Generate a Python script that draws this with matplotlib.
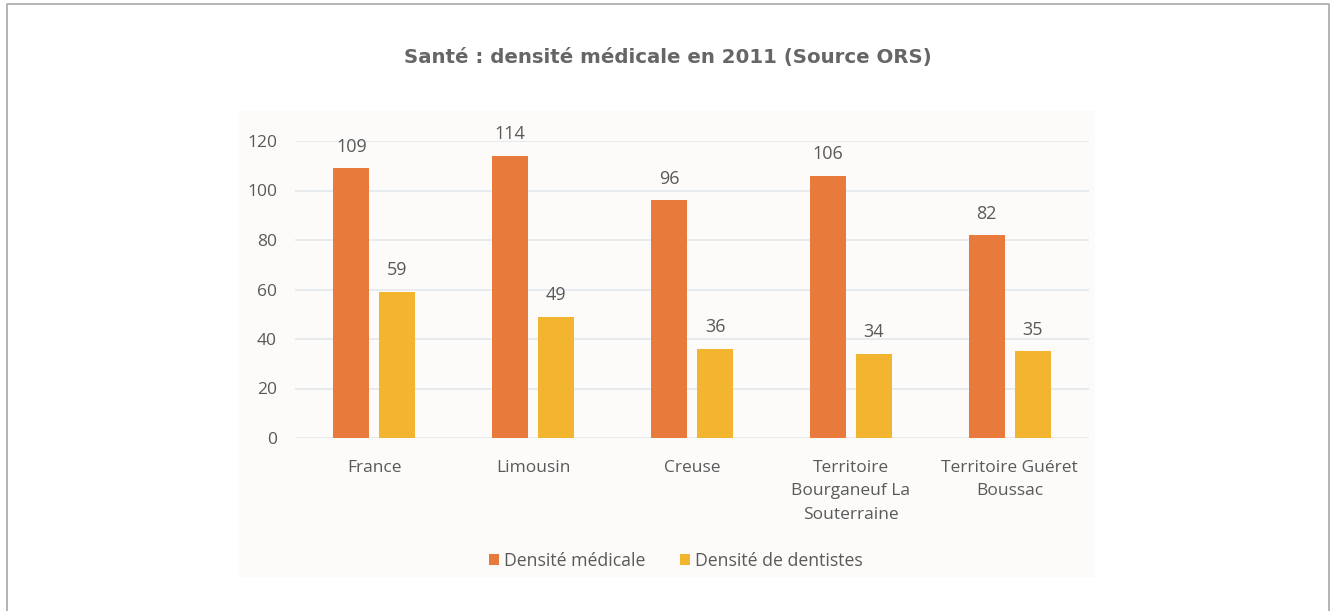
import matplotlib.pyplot as plt
import matplotlib.patches as mpatches
import numpy as np

categories = ['France', 'Limousin', 'Creuse',
              'Territoire\nBourganeuf La\nSouterraine', 'Territoire Guéret\nBoussac']
densite_medicale = [109, 114, 96, 106, 82]
densite_dentistes = [59, 49, 36, 34, 35]
series_names = ['Densité médicale', 'Densité de dentistes']
y_ticks = [0, 20, 40, 60, 80, 100, 120]

ORANGE = '#E87B3C'
YELLOW = '#F3B52F'
TEXT = '#595959'

fig = plt.figure(figsize=(13.37, 6.11), dpi=100)
W, H = 1337, 611

# outer frame (open at the bottom) and inner chart panel, pixel coords -> figure fractions
fx0, fx1, fy = 7 / W, 1329 / W, 1 - 4 / H
fig.add_artist(plt.Line2D([fx0, fx0, fx1, fx1], [0, fy, fy, 0], transform=fig.transFigure,
                          color='#A8A8A8', lw=1.2))
fig.patches.append(mpatches.Rectangle((238 / W, (611 - 577) / H), (1095 - 238) / W, (577 - 111) / H,
                                      transform=fig.transFigure, facecolor='#FCFBFA',
                                      edgecolor='none', zorder=-5))

fig.text(668 / W, 1 - 57 / H, 'Santé : densité médicale en 2011 (Source ORS)',
         ha='center', va='center', fontsize=14.2, fontweight='bold',
         family='DejaVu Sans', color='#666666')

ax = fig.add_axes([295 / W, (611 - 438) / H, (1089 - 295) / W, (438 - 141) / H])
ax.set_facecolor('none')
ax.set_zorder(2)

x = np.arange(len(categories))
w = 0.226
off = 0.145
b1 = ax.bar(x - off, densite_medicale, w, color=ORANGE, label=series_names[0], zorder=3)
b2 = ax.bar(x + off, densite_dentistes, w, color=YELLOW, label=series_names[1], zorder=3)

for bars in (b1, b2):
    ax.bar_label(bars, padding=9, fontsize=13, color=TEXT, family='Open Sans')

ax.set_xlim(-0.5, len(categories) - 0.5)
ax.set_ylim(0, 120)
ax.set_yticks(y_ticks)
ax.set_xticks(x)
ax.set_xticklabels(categories, linespacing=1.65)
ax.grid(axis='y', color='#E3E8EC', lw=1.2, zorder=0)
for s in ax.spines.values():
    s.set_visible(False)
ax.tick_params(axis='y', length=0, pad=13, labelsize=12.5, labelcolor=TEXT)
ax.tick_params(axis='x', length=0, pad=15.5, labelsize=12.5, labelcolor=TEXT)
for lbl in ax.get_xticklabels() + ax.get_yticklabels():
    lbl.set_family('Open Sans')

fig.legend(handles=[b1, b2], labels=series_names, loc='center',
           bbox_to_anchor=(676 / W, 1 - 561 / H), ncol=2, frameon=False,
           handlelength=0.55, handleheight=0.55, handletextpad=0.3, columnspacing=2.0,
           prop={'family': 'Open Sans', 'size': 12.7}, labelcolor=TEXT)

fig.savefig('out.png', dpi=100)
